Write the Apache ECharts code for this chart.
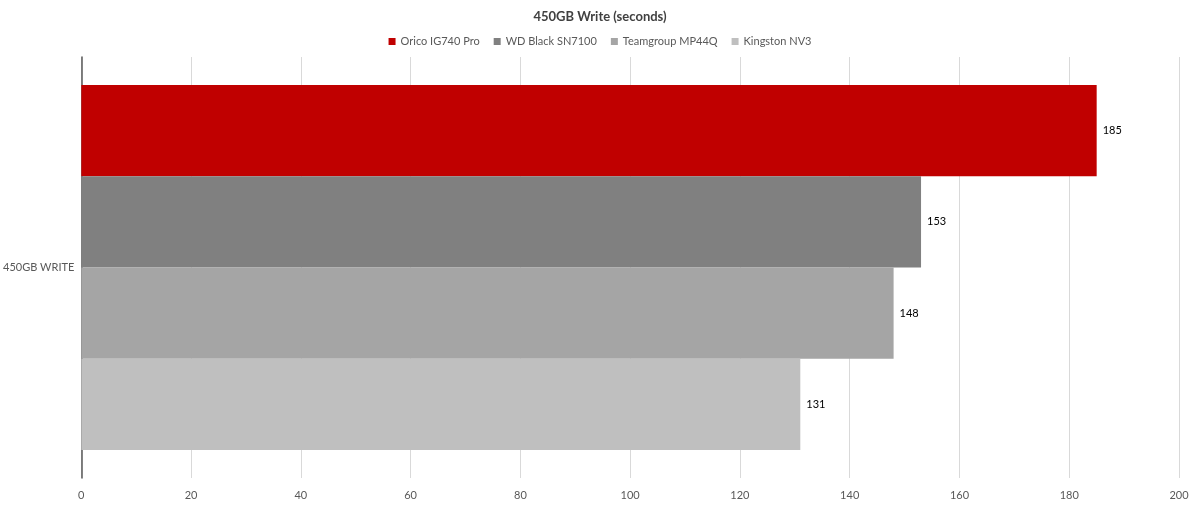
<!DOCTYPE html>
<html><head><meta charset="utf-8">
<script src="https://cdn.jsdelivr.net/npm/echarts@6/dist/echarts.min.js"></script>
<style>html,body{margin:0;padding:0;background:#fff}#c{width:1200px;height:509px}</style>
</head><body><div id="c"></div>
<script>
const categories = ['450GB WRITE'];
const seriesNames = ['Orico IG740 Pro', 'WD Black SN7100', 'Teamgroup MP44Q', 'Kingston NV3'];
const seriesValues = [[185], [153], [148], [131]];
const seriesColors = ['#C00000', '#808080', '#A5A5A5', '#BFBFBF'];
const xTicks = { min: 0, max: 200, interval: 20 };
const font = 'Lato, "Open Sans", sans-serif';

const chart = echarts.init(document.getElementById('c'));
chart.setOption({
  animation: false,
  title: { text: '450GB Write (seconds)', left: 'center', top: 5,
    textStyle: { fontFamily: font, fontSize: 13, fontWeight: 'bold', color: '#404040' } },
  legend: { top: 31, left: 'center', itemWidth: 7, itemHeight: 7, itemGap: 14, icon: 'rect',
    textStyle: { fontFamily: font, fontSize: 11, color: '#595959' },
    data: seriesNames },
  grid: { left: 78, right: 21, top: 57, bottom: 31, containLabel: false },
  xAxis: { type: 'value', min: xTicks.min, max: xTicks.max, interval: xTicks.interval,
    axisLine: { show: false }, axisTick: { show: false },
    splitLine: { lineStyle: { color: '#D9D9D9', width: 1 } },
    axisLabel: { fontFamily: font, fontSize: 11, color: '#595959', margin: 12 } },
  yAxis: { type: 'category', data: categories, inverse: true,
    axisLine: { show: true, lineStyle: { color: '#595959', width: 1.5 } },
    axisTick: { show: false },
    axisLabel: { fontFamily: font, fontSize: 11, color: '#595959', margin: 7 } },
  series: seriesNames.map((n, i) => ({
    name: n, type: 'bar', data: seriesValues[i],
    barGap: '0%', barWidth: 91.3,
    itemStyle: { color: seriesColors[i] },
    label: { show: true, position: 'right', distance: 6, fontFamily: font, fontSize: 11, color: '#000' }
  }))
});
</script></body></html>
